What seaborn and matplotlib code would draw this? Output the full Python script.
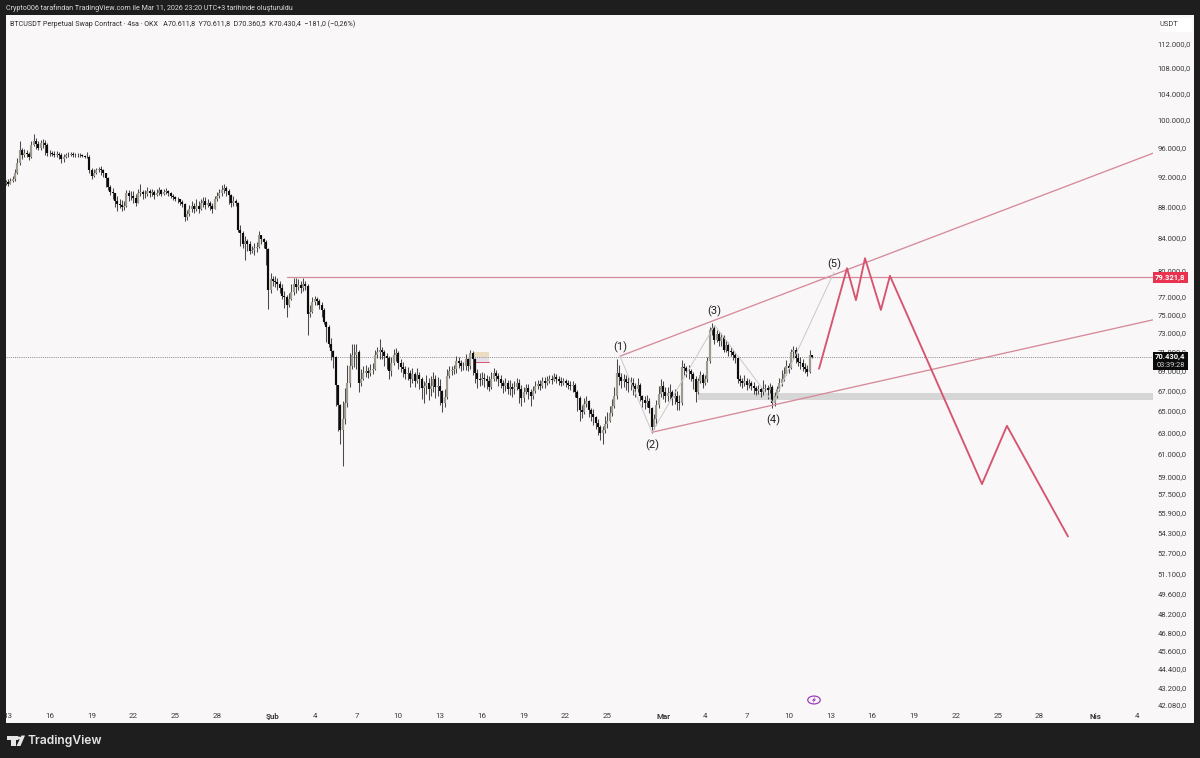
import numpy as np
import seaborn as sns
import matplotlib.pyplot as plt
from matplotlib.patches import Rectangle, Circle, Polygon
from matplotlib.ticker import FixedLocator, FuncFormatter, NullLocator

# BTCUSDT 4h bars, thousands of USDT, ten bars per row
closes_k = [
    91.2, 91.0, 91.4, 91.6, 92.4, 93.8, 95.6, 95.0, 95.2, 95.1,
    94.6, 96.4, 97.0, 96.5, 96.0, 96.6, 96.7, 96.4, 95.2, 95.2,
    95.1, 95.0, 95.1, 95.0, 94.4, 94.7, 94.9, 95.0, 95.1, 94.9,
    94.9, 95.0, 94.9, 94.8, 94.7, 94.7, 92.8, 92.1, 92.5, 92.9,
    93.0, 92.8, 92.4, 91.8, 90.6, 89.9, 89.7, 88.7, 88.3, 88.2,
    87.9, 88.0, 89.7, 89.3, 89.4, 89.1, 88.5, 89.8, 89.9, 89.6,
    89.6, 90.0, 89.7, 89.9, 89.5, 89.8, 90.1, 89.6, 89.9, 90.0,
    89.7, 89.4, 89.2, 89.0, 88.9, 88.6, 88.3, 86.6, 87.0, 87.6,
    88.0, 87.7, 88.1, 87.7, 88.4, 88.7, 88.2, 88.5, 88.0, 87.7,
    88.9, 89.3, 89.7, 90.1, 90.4, 90.0, 89.5, 88.4, 88.7, 88.5,
    85.0, 84.6, 83.2, 83.6, 83.2, 82.4, 82.5, 82.7, 82.9, 84.3,
    83.8, 83.5, 82.6, 77.7, 79.0, 78.8, 78.7, 78.4, 78.0, 77.1,
    76.9, 76.1, 76.7, 77.5, 78.5, 78.1, 78.3, 78.0, 78.4, 78.2,
    75.0, 75.3, 76.4, 76.7, 76.5, 76.1, 75.5, 74.2, 73.6, 71.8,
    71.0, 70.4, 67.6, 65.6, 63.2, 64.2, 65.8, 67.8, 69.5, 70.6,
    70.6, 70.9, 67.8, 68.2, 68.8, 69.0, 68.8, 69.1, 69.2, 70.6,
    70.9, 71.1, 70.9, 70.5, 70.3, 69.0, 69.8, 70.6, 70.8, 69.8,
    69.4, 69.2, 68.7, 68.8, 68.2, 68.7, 68.0, 68.6, 68.2, 67.3,
    67.5, 67.8, 67.2, 67.5, 68.2, 67.4, 67.5, 67.0, 65.8, 66.4,
    68.5, 69.0, 69.1, 69.2, 70.0, 69.8, 69.5, 69.5, 70.2, 69.5,
    70.8, 70.2, 68.8, 68.2, 68.1, 68.3, 68.2, 68.0, 67.4, 68.2,
    68.8, 68.5, 68.2, 67.8, 67.5, 67.8, 67.2, 67.4, 67.2, 67.4,
    67.8, 67.2, 66.3, 66.9, 67.3, 66.9, 66.5, 67.0, 67.5, 67.7,
    67.5, 68.0, 67.8, 68.0, 68.2, 68.1, 68.4, 68.2, 68.0, 67.8,
    68.0, 67.8, 67.6, 67.5, 67.6, 66.9, 66.3, 65.1, 64.9, 65.7,
    66.0, 65.1, 64.7, 64.4, 63.9, 63.5, 62.9, 63.2, 63.8, 64.1,
    64.8, 65.5, 66.5, 68.8, 68.4, 68.0, 68.2, 67.9, 67.8, 67.8,
    67.5, 67.2, 67.6, 66.5, 66.1, 65.8, 66.0, 65.3, 63.5, 64.2,
    65.6, 66.7, 67.5, 66.9, 66.5, 66.8, 66.9, 66.3, 66.5, 65.9,
    65.8, 69.4, 69.3, 69.0, 69.0, 68.7, 68.2, 66.9, 68.0, 68.6,
    67.8, 68.2, 70.0, 73.3, 73.5, 72.2, 72.9, 72.1, 72.5, 71.2,
    71.7, 71.0, 70.9, 70.6, 70.3, 68.2, 68.0, 67.8, 68.0, 67.6,
    67.8, 67.5, 67.3, 67.0, 67.2, 66.9, 67.2, 67.3, 67.1, 67.4,
    65.8, 66.5, 67.2, 67.8, 68.2, 68.7, 69.5, 69.3, 70.9, 71.1,
    70.3, 69.9, 69.8, 69.4, 69.2, 68.9, 70.6, 70.43,
]
highs_k = [
    91.5, 91.6, 91.8, 92.1, 93.0, 94.5, 97.0, 96.0, 95.8, 95.7,
    95.4, 97.0, 97.9, 97.4, 96.9, 97.1, 97.2, 97.1, 96.6, 95.6,
    95.5, 95.5, 95.5, 95.4, 95.2, 95.1, 95.2, 95.3, 95.4, 95.3,
    95.2, 95.2, 95.2, 95.1, 95.0, 95.3, 94.9, 93.1, 93.0, 93.2,
    93.3, 93.4, 93.0, 92.5, 91.9, 90.8, 90.4, 89.8, 89.3, 89.0,
    88.8, 88.7, 90.2, 90.1, 90.0, 90.0, 89.6, 90.3, 90.9, 90.2,
    90.1, 90.6, 90.3, 90.3, 90.2, 90.3, 90.6, 90.3, 90.3, 90.4,
    90.1, 89.9, 89.6, 89.3, 89.2, 89.0, 88.8, 88.5, 87.5, 88.2,
    88.7, 88.5, 88.9, 88.7, 89.0, 89.2, 89.2, 89.0, 88.7, 88.4,
    89.4, 89.9, 90.3, 90.8, 91.0, 90.7, 90.3, 89.6, 89.3, 89.0,
    88.6, 85.6, 84.8, 84.2, 83.9, 83.6, 83.0, 83.3, 83.5, 84.8,
    84.4, 84.0, 83.7, 82.7, 79.7, 79.4, 79.4, 79.1, 78.8, 78.5,
    77.6, 77.2, 77.4, 78.4, 79.1, 79.1, 79.0, 78.8, 79.1, 78.8,
    78.4, 76.1, 76.9, 77.1, 77.0, 76.7, 76.4, 75.7, 74.3, 73.8,
    72.4, 71.2, 70.5, 67.5, 65.7, 66.0, 67.3, 69.6, 70.8, 71.8,
    71.8, 71.8, 71.1, 69.2, 69.5, 69.6, 69.4, 69.7, 69.8, 71.2,
    71.5, 72.3, 71.5, 71.1, 70.8, 70.5, 70.4, 71.3, 71.4, 71.0,
    70.2, 69.9, 69.5, 69.4, 69.1, 69.3, 68.9, 69.3, 68.9, 68.4,
    68.0, 68.6, 68.3, 68.5, 68.9, 68.6, 68.4, 68.2, 67.1, 67.2,
    69.2, 69.5, 69.5, 69.6, 70.5, 70.4, 70.1, 69.9, 70.7, 70.3,
    71.2, 71.0, 70.3, 69.2, 68.8, 68.9, 68.8, 68.6, 68.5, 68.9,
    69.3, 69.1, 68.8, 68.6, 68.1, 68.3, 68.1, 68.1, 67.8, 68.0,
    68.3, 68.2, 67.6, 67.4, 67.7, 67.7, 67.2, 67.5, 68.0, 68.1,
    68.1, 68.4, 68.4, 68.5, 68.6, 68.6, 68.8, 68.7, 68.5, 68.4,
    68.3, 68.2, 68.1, 68.0, 68.0, 67.8, 67.1, 66.5, 65.6, 66.3,
    66.5, 66.1, 65.3, 65.2, 64.5, 64.2, 63.7, 63.6, 64.5, 64.9,
    65.5, 66.2, 67.4, 70.2, 69.6, 68.8, 68.7, 68.6, 68.4, 68.4,
    68.3, 67.8, 68.3, 67.8, 66.6, 66.5, 66.6, 66.3, 65.4, 64.7,
    66.1, 67.5, 68.2, 68.0, 67.4, 67.4, 67.7, 67.1, 67.2, 67.0,
    66.6, 70.1, 69.8, 69.5, 69.6, 69.2, 68.9, 68.5, 68.3, 69.0,
    68.8, 68.6, 70.4, 73.6, 74.0, 73.7, 73.3, 73.2, 73.0, 72.7,
    72.2, 72.0, 71.5, 71.1, 70.8, 70.5, 68.6, 68.3, 68.6, 68.3,
    68.2, 68.0, 67.9, 67.5, 67.6, 67.4, 68.1, 67.7, 67.6, 67.8,
    67.6, 66.9, 67.5, 68.3, 69.1, 69.4, 70.1, 69.8, 71.3, 71.6,
    71.5, 70.8, 70.4, 70.2, 69.8, 69.6, 71.2, 70.61,
]
lows_k = [
    90.8, 90.7, 90.9, 91.2, 91.4, 92.3, 93.6, 94.4, 94.6, 94.7,
    94.2, 94.5, 96.2, 95.8, 95.6, 95.7, 96.0, 95.0, 94.8, 94.8,
    94.8, 94.7, 94.7, 94.4, 93.8, 94.0, 94.5, 94.7, 94.8, 94.7,
    94.6, 94.7, 94.7, 94.6, 94.5, 94.5, 92.4, 91.7, 91.9, 92.3,
    92.6, 92.2, 91.9, 90.5, 90.2, 89.5, 88.9, 87.9, 87.4, 87.8,
    87.4, 87.5, 87.9, 88.7, 88.8, 88.4, 88.0, 88.4, 89.4, 88.9,
    89.1, 89.4, 89.2, 89.3, 88.9, 89.3, 89.5, 89.3, 89.5, 89.6,
    89.4, 89.1, 88.8, 88.7, 88.4, 88.2, 87.9, 86.1, 86.3, 86.7,
    87.3, 87.2, 87.4, 87.1, 87.5, 87.9, 87.6, 87.9, 87.5, 87.2,
    87.6, 88.7, 89.1, 89.4, 89.8, 89.4, 88.3, 87.9, 88.1, 88.0,
    84.7, 83.0, 82.8, 81.3, 82.4, 82.0, 82.1, 81.9, 82.3, 82.7,
    83.2, 82.8, 80.7, 75.6, 77.4, 78.2, 78.1, 77.8, 77.4, 76.7,
    75.7, 74.7, 75.8, 76.6, 77.2, 77.4, 77.7, 77.4, 77.6, 77.7,
    72.8, 74.7, 75.1, 76.1, 76.0, 75.6, 74.7, 73.9, 72.0, 71.5,
    70.1, 69.3, 65.5, 63.1, 61.9, 59.9, 63.8, 65.4, 67.4, 69.2,
    69.4, 69.2, 66.9, 67.5, 68.1, 68.4, 68.3, 68.5, 68.7, 69.1,
    70.3, 70.2, 70.2, 69.5, 69.2, 68.2, 68.5, 69.6, 70.0, 69.2,
    68.9, 68.4, 68.2, 68.1, 67.4, 67.8, 67.4, 67.8, 67.2, 66.2,
    65.8, 66.7, 66.1, 66.5, 66.9, 66.3, 66.5, 65.6, 64.9, 65.4,
    66.2, 68.3, 68.6, 68.7, 68.8, 69.3, 69.0, 69.1, 69.1, 69.0,
    69.2, 68.6, 67.8, 67.3, 67.5, 67.6, 67.4, 67.2, 67.0, 67.2,
    68.0, 68.0, 67.5, 67.3, 66.8, 67.0, 66.7, 66.6, 66.4, 66.7,
    67.1, 65.8, 65.5, 65.9, 66.7, 66.2, 65.5, 66.2, 66.8, 67.2,
    67.1, 67.3, 67.3, 67.6, 67.8, 67.7, 68.0, 67.8, 67.6, 67.5,
    67.6, 67.4, 67.2, 67.1, 66.9, 66.4, 65.0, 64.1, 64.3, 64.7,
    65.4, 64.4, 64.1, 63.7, 63.3, 62.7, 62.3, 61.9, 62.9, 63.4,
    64.0, 64.5, 65.3, 66.2, 67.6, 67.3, 67.4, 67.1, 66.9, 67.1,
    66.6, 66.4, 66.9, 66.0, 65.4, 65.2, 65.4, 64.8, 62.9, 63.3,
    63.7, 65.3, 66.4, 66.2, 65.9, 66.0, 66.2, 65.6, 65.7, 65.1,
    65.1, 65.6, 68.6, 68.4, 68.2, 68.0, 67.2, 65.9, 66.7, 67.8,
    67.3, 67.6, 67.9, 69.8, 72.7, 71.8, 72.0, 71.6, 71.6, 70.9,
    70.9, 70.5, 70.5, 70.1, 69.8, 67.8, 67.5, 67.3, 67.5, 67.1,
    67.3, 67.1, 66.7, 66.6, 66.7, 66.4, 66.6, 66.9, 66.2, 66.8,
    65.3, 65.5, 66.3, 67.0, 67.5, 68.0, 68.6, 68.8, 69.2, 70.2,
    69.8, 69.5, 69.2, 69.0, 68.8, 68.5, 68.8, 70.36,
]

# drawings, x in days after 13 Jan, y in USDT
upper_days = [43.9, 82.14]
upper_prices = [70500, 95200]
lower_days = [46.2, 82.14]
lower_prices = [63000, 74400]
wave_days = [43.9, 46.2, 50.7, 54.9, 59.25]
wave_prices = [70500, 63000, 73800, 65800, 79800]
wave_labels = ["(1)", "(2)", "(3)", "(4)", "(5)"]
wave_label_prices = [71400, 61800, 75300, 64100, 80800]
forecast_days = [58.18, 60.19, 60.83, 61.48, 62.62, 63.27, 69.87, 71.66, 76.04]
forecast_prices = [69200, 80300, 76600, 81500, 75500, 79400, 58350, 63600, 54000]
resistance = 79321.8
last_price = 70430.4
zone_days = [49.5, 82.14]
zone_prices = [66100, 66800]

y_ticks = [112000, 108000, 104000, 100000, 96000, 92000, 88000, 84000, 80000, 77000,
           75000, 73000, 71000, 69000, 67000, 65000, 63000, 61000, 59000, 57500, 55900,
           54300, 52700, 51100, 49600, 48200, 46800, 45600, 44400, 43200, 42080]
x_ticks = [0, 3, 6, 9, 12, 15, 19, 22, 25, 28, 31, 34, 37, 40, 43, 47, 50, 53, 56, 59,
           62, 65, 68, 71, 74, 78, 81]
x_labels = ["13", "16", "19", "22", "25", "28", "Şub", "4", "7", "10", "13", "16", "19",
            "22", "25", "Mar", "4", "7", "10", "13", "16", "19", "22", "25", "28", "Nis", "4"]

DARK = "#1e1e1e"
PANEL = "#f9f7f8"
RED_THIN = "#d68a99"
RED_BOLD = "#d6556e"
W, H = 1200, 758


def px_rect(fig, x0, y0, x1, y1, color, z=5):
    fig.add_artist(Rectangle((x0 / W, 1 - y1 / H), (x1 - x0) / W, (y1 - y0) / H,
                             transform=fig.transFigure, facecolor=color, edgecolor="none", zorder=z))


def px_text(fig, x, y, s, **kw):
    fig.text(x / W, 1 - y / H, s, **kw)


sns.set_theme(style="white")
plt.rcParams["font.family"] = ["Roboto", "DejaVu Sans"]

fig = plt.figure(figsize=(12, 7.58), dpi=100, facecolor=DARK)
px_rect(fig, 6, 15, 1194, 723, PANEL, z=-1)

ax = fig.add_axes([6 / W, 1 - 707 / H, (1153 - 6) / W, (707 - 15) / H])
ax.set_facecolor("none")
ax.set_yscale("log")

# candles
closes = np.array(closes_k) * 1000
highs = np.array(highs_k) * 1000
lows = np.array(lows_k) * 1000
opens = np.r_[91000, closes[:-1]]
bar_days = (np.arange(len(closes)) - 1) / 6
up = closes >= opens
ax.vlines(bar_days, lows, highs, color="#4a4a4a", linewidth=0.75, zorder=3)
ax.vlines(bar_days[up], opens[up], closes[up], color="#9f998e", linewidth=1.55, zorder=4)
ax.vlines(bar_days[~up], closes[~up], opens[~up], color="#0c0c0c", linewidth=1.55, zorder=4)

# zone, small position box and price lines
ax.fill_between(zone_days, zone_prices[0], zone_prices[1], color="#d6d6d6", linewidth=0, zorder=1)
ax.fill_between([33.36, 34.5], 70430, 70940, color="#ecdcc4", linewidth=0, zorder=1)
ax.fill_between([33.36, 34.5], 69900, 70430, color="#e6e0ea", linewidth=0, zorder=1)
ax.plot([33.36, 34.5], [69900, 69900], color="#d6556e", linewidth=0.7, zorder=2)
ax.axhline(last_price, color="#8a8a8a", linewidth=0.7, linestyle=(0, (1, 1.2)), zorder=2)

line_kw = dict(ax=ax, estimator=None, sort=False, legend=False, zorder=5)
sns.lineplot(x=[20.0, 82.14], y=[resistance, resistance], color=RED_THIN, linewidth=0.9, **line_kw)
sns.lineplot(x=upper_days, y=upper_prices, color=RED_THIN, linewidth=0.95, **line_kw)
sns.lineplot(x=lower_days, y=lower_prices, color=RED_THIN, linewidth=0.95, **line_kw)
sns.lineplot(x=wave_days, y=wave_prices, color="#c9c9c9", linewidth=0.7, **line_kw)
sns.lineplot(x=forecast_days, y=forecast_prices, color=RED_BOLD, linewidth=1.35, **line_kw)

for d, p, s in zip(wave_days, wave_label_prices, wave_labels):
    ax.text(d, p, s, ha="center", va="center", fontsize=8, color="#222222", zorder=6)

ax.set_xlim(-0.1435, 82.14)
ax.set_ylim(41956, 116800)
ax.set_xlabel("")
ax.set_ylabel("")
sns.despine(ax=ax, left=True, bottom=True, right=True, top=True)

ax.yaxis.tick_right()
ax.yaxis.set_major_locator(FixedLocator(y_ticks))
ax.yaxis.set_minor_locator(NullLocator())
ax.yaxis.set_major_formatter(FuncFormatter(
    lambda v, _: f"{v:,.1f}".replace(",", "X").replace(".", ",").replace("X", ".")))
ax.tick_params(axis="y", length=0, pad=3.4, labelsize=5.5, labelcolor="#3c3c3c")
ax.set_xticks(x_ticks)
ax.set_xticklabels(x_labels)
ax.tick_params(axis="x", length=0, pad=4, labelsize=5.8, labelcolor="#3c3c3c")
for lab in ax.get_xticklabels():
    if lab.get_text() in ("Şub", "Mar", "Nis"):
        lab.set_fontweight("bold")

# price tags on the axis
px_rect(fig, 1160, 18, 1192, 32, "#ffffff", z=4)
px_text(fig, 1160, 25, "USDT", fontsize=5.4, color="#3c3c3c", va="center", zorder=6)
px_rect(fig, 1153, 272, 1188, 283, "#e8324f")
px_text(fig, 1170.5, 277.5, "79.321,8", fontsize=5.5, color="white", ha="center", va="center",
        fontweight="bold", zorder=6)
px_rect(fig, 1153, 352, 1188, 370, "#0a0a0a")
px_text(fig, 1170.5, 356.5, "70.430,4", fontsize=5.5, color="white", ha="center", va="center",
        fontweight="bold", zorder=6)
px_text(fig, 1170.5, 365, "03:39:28", fontsize=5.3, color="#d8d8d8", ha="center", va="center", zorder=6)

# header texts
px_text(fig, 6, 8.5, "Crypto006 tarafından TradingView.com ile Mar 11, 2026 23:20 UTC+3 tarihinde oluşturuldu",
        fontsize=5.1, color="#dddddd", va="center")
px_text(fig, 10, 24, "BTCUSDT Perpetual Swap Contract · 4sa · OKX   A70.611,8  Y70.611,8  D70.360,5  "
        "K70.430,4  −181,0 (−0,26%)", fontsize=5.1, color="#2a2a2a", va="center")

# lightning marker
fig.add_artist(Circle((814 / W, 1 - 700 / H), 0.0052, transform=fig.transFigure, facecolor=PANEL,
                      edgecolor="#9a3fb5", linewidth=0.9, zorder=6))
fig.add_artist(Polygon([[815.5 / W, 1 - 696.5 / H], [811.8 / W, 1 - 700.6 / H], [813.8 / W, 1 - 700.6 / H],
                        [812.5 / W, 1 - 703.5 / H], [816.2 / W, 1 - 699.3 / H], [814.2 / W, 1 - 699.3 / H]],
                       transform=fig.transFigure, facecolor="#9a3fb5", edgecolor="none", zorder=7))

# TradingView logo
px_rect(fig, 7, 735.5, 17.5, 740, "#e6e6e6")
px_rect(fig, 11, 735.5, 15.5, 746, "#e6e6e6")
fig.add_artist(Circle((19 / W, 1 - 738 / H), 0.0019, transform=fig.transFigure, facecolor="#e6e6e6",
                      edgecolor="none", zorder=5))
fig.add_artist(Polygon([[20.5 / W, 1 - 746 / H], [25 / W, 1 - 735.5 / H], [21.5 / W, 1 - 735.5 / H],
                        [16.5 / W, 1 - 746 / H]], transform=fig.transFigure, facecolor="#e6e6e6",
                       edgecolor="none", zorder=5))
px_text(fig, 28, 741, "TradingView", fontsize=8.7, color="#e6e6e6", va="center", family="Inter", fontweight="semibold")

fig.savefig("out.png", dpi=100, facecolor=DARK)
